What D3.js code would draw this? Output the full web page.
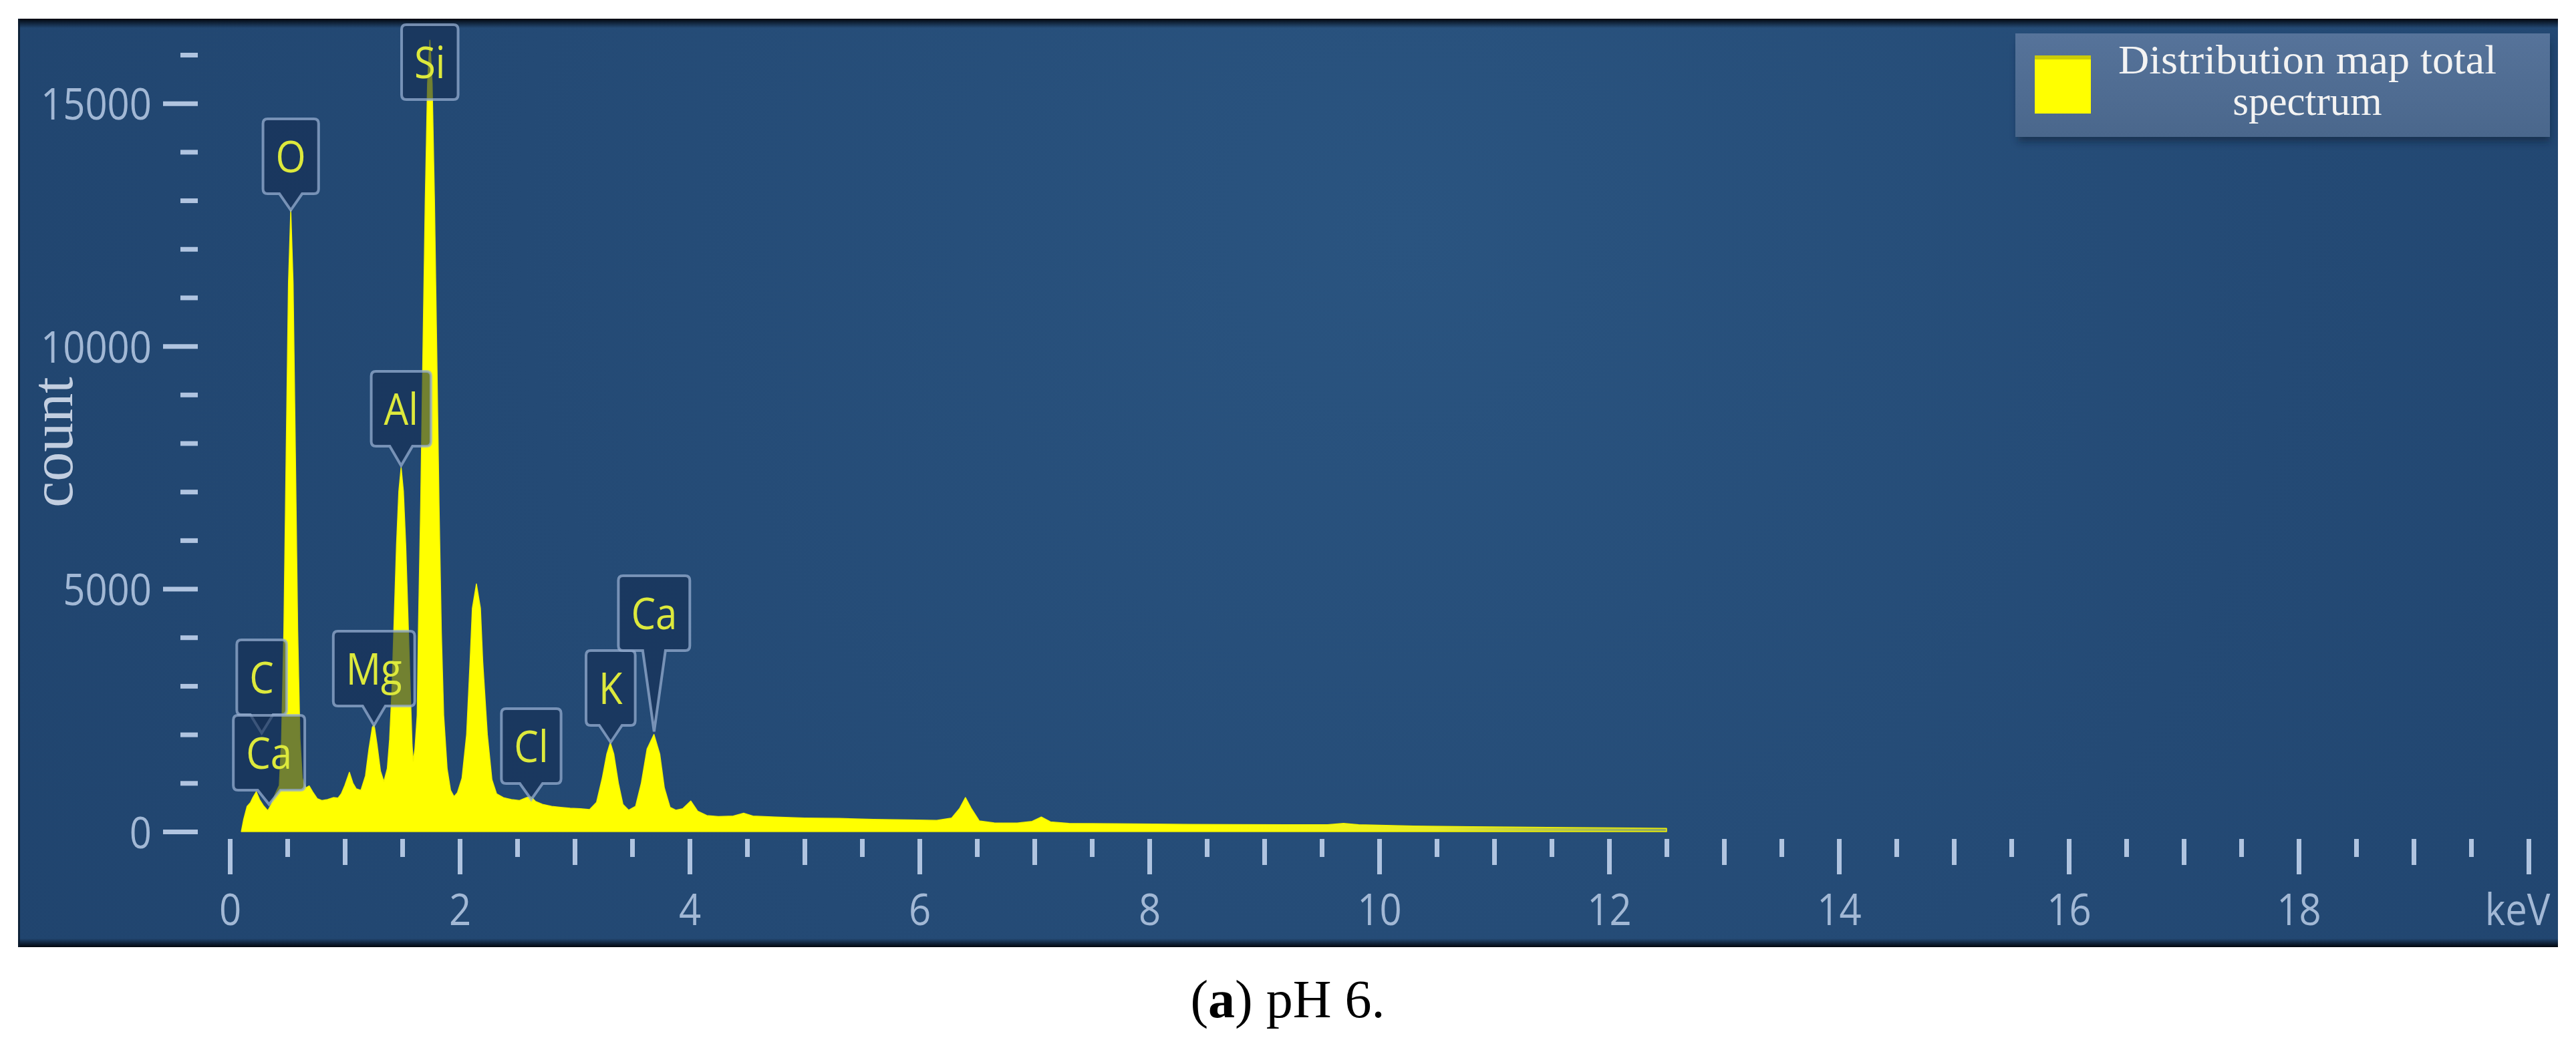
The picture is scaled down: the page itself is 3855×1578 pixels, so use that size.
<!DOCTYPE html>
<html><head><meta charset="utf-8">
<script src="https://cdn.jsdelivr.net/npm/d3@7/dist/d3.min.js"></script>
<style>body{margin:0;background:#fff}svg{display:block}</style>
</head><body><svg id="chart" width="3855" height="1578"></svg>
<script>
// ---- data ----
const energyKeV = [0.10,0.12,0.15,0.18,0.20,0.23,0.26,0.29,0.33,0.36,0.40,0.43,0.45,0.47,0.49,0.51,0.53,0.55,0.57,0.59,0.61,0.63,0.66,0.69,0.72,0.76,0.80,0.85,0.90,0.94,0.97,1.00,1.04,1.07,1.10,1.14,1.18,1.21,1.24,1.255,1.28,1.31,1.34,1.37,1.39,1.41,1.43,1.45,1.47,1.49,1.51,1.53,1.55,1.57,1.585,1.595,1.61,1.63,1.64,1.66,1.68,1.70,1.72,1.74,1.76,1.78,1.80,1.82,1.84,1.86,1.89,1.92,1.95,1.98,2.02,2.06,2.09,2.11,2.145,2.18,2.20,2.24,2.28,2.32,2.38,2.45,2.52,2.58,2.62,2.66,2.72,2.80,2.88,2.96,3.05,3.13,3.19,3.24,3.28,3.31,3.34,3.38,3.42,3.47,3.53,3.58,3.63,3.69,3.74,3.78,3.83,3.88,3.94,4.01,4.07,4.15,4.25,4.38,4.47,4.55,4.75,5.0,5.3,5.6,5.9,6.15,6.28,6.35,6.40,6.45,6.52,6.65,6.85,6.98,7.06,7.14,7.3,7.7,8.2,8.7,9.2,9.55,9.69,9.82,10.3,10.8,11.3,11.8,12.2,12.5,12.5];
const counts    = [0,250,520,600,700,820,650,540,430,560,800,950,1900,4150,7800,11300,12800,11300,7800,4150,1900,1100,900,940,820,680,640,660,700,690,780,950,1220,1000,880,850,1150,1700,2150,2200,1800,1250,1030,1300,1900,2900,4400,5900,7000,7500,7000,5900,4400,2900,1800,1450,1700,2400,4100,6700,9900,13000,15400,16300,15400,13000,9900,6700,4100,2400,1300,850,720,800,1100,2000,3500,4600,5100,4600,3500,2000,1070,780,700,660,640,700,720,620,560,520,500,480,470,455,600,1100,1600,1830,1600,1000,560,440,520,1000,1700,2000,1600,900,500,440,470,630,420,330,310,320,380,320,300,280,270,250,240,230,280,480,700,480,220,180,175,210,300,200,170,160,150,145,140,140,170,140,115,100,90,80,72,65,0];

const peakLabels    = ["C","Ca","O","Mg","Al","Si","Cl","K","Ca"];
const peakEnergies  = [0.277,0.341,0.530,1.254,1.490,1.740,2.622,3.313,3.691];
const peakTipCounts = [2030,560,12800,2190,7540,16300,660,1840,2060];

const yMajorTicks = [0,5000,10000,15000];
const yMinorTicks = [1000,2000,3000,4000,6000,7000,8000,9000,11000,12000,13000,14000,16000];
const xMajorTicks = [0,2,4,6,8,10,12,14,16,18,20];
const xMajorLabels = ["0","2","4","6","8","10","12","14","16","18","keV"];
const xMidTicks = [1,3,5,7,9,11,13,15,17,19];
const xMinorTicks = [0.5,1.5,2.5,3.5,4.5,5.5,6.5,7.5,8.5,9.5,10.5,11.5,12.5,13.5,14.5,15.5,16.5,17.5,18.5,19.5];

const yAxisTitle = "count";
const legendLines = ["Distribution map total","spectrum"];

// ---- layout (pixels) ----
const panel = {x0:27, y0:28, x1:3828, y1:1418};
const labelBoxTops = [958,1071,178,945,556,37,1061,974,862];
const boxH = 112;

const svg = d3.select("#chart");
const defs = svg.append("defs");

const x = d3.scaleLinear().domain([0,20]).range([344,3784]);
const y = d3.scaleLinear().domain([0,16000]).range([1245,82]);

// background gradients
const rg = defs.append("radialGradient").attr("id","bg").attr("gradientUnits","userSpaceOnUse")
  .attr("cx",2100).attr("cy",350).attr("r",2400);
rg.append("stop").attr("offset",0).attr("stop-color","#2a5480");
rg.append("stop").attr("offset",0.55).attr("stop-color","#244a75");
rg.append("stop").attr("offset",1).attr("stop-color","#20446e");
const topG = defs.append("linearGradient").attr("id","topEdge").attr("x1",0).attr("y1",0).attr("x2",0).attr("y2",1);
topG.append("stop").attr("offset",0).attr("stop-color","#02060d").attr("stop-opacity",1);
topG.append("stop").attr("offset",1).attr("stop-color","#02060d").attr("stop-opacity",0);
const botG = defs.append("linearGradient").attr("id","botEdge").attr("x1",0).attr("y1",0).attr("x2",0).attr("y2",1);
botG.append("stop").attr("offset",0).attr("stop-color","#02060d").attr("stop-opacity",0);
botG.append("stop").attr("offset",1).attr("stop-color","#02060d").attr("stop-opacity",1);
const fillG = defs.append("linearGradient").attr("id","specFill").attr("gradientUnits","userSpaceOnUse")
  .attr("x1",x(8.5)).attr("y1",0).attr("x2",x(12.5)).attr("y2",0);
fillG.append("stop").attr("offset",0).attr("stop-color","#ffff00");
fillG.append("stop").attr("offset",0.5).attr("stop-color","#e6ec2a");
fillG.append("stop").attr("offset",1).attr("stop-color","#8fa860");
const legG = defs.append("linearGradient").attr("id","legBg").attr("x1",0).attr("y1",0).attr("x2",0).attr("y2",1);
legG.append("stop").attr("offset",0).attr("stop-color","#56739a");
legG.append("stop").attr("offset",1).attr("stop-color","#4a678c");
const blur = defs.append("filter").attr("id","soft").attr("x","-10%").attr("y","-10%").attr("width","120%").attr("height","140%");
blur.append("feGaussianBlur").attr("stdDeviation",6);

svg.append("rect").attr("x",panel.x0).attr("y",panel.y0).attr("width",panel.x1-panel.x0).attr("height",panel.y1-panel.y0).attr("fill","url(#bg)");
svg.append("rect").attr("x",panel.x0).attr("y",panel.y0).attr("width",panel.x1-panel.x0).attr("height",14).attr("fill","url(#topEdge)");
svg.append("rect").attr("x",panel.x0).attr("y",panel.y1-13).attr("width",panel.x1-panel.x0).attr("height",13).attr("fill","url(#botEdge)");
svg.append("rect").attr("x",panel.x0).attr("y",panel.y0).attr("width",3).attr("height",panel.y1-panel.y0).attr("fill","#0b1a2c").attr("opacity",0.8);

// spectrum
const pts = energyKeV.map((e,i)=>[e,counts[i]]);
const area = d3.area().x(d=>x(d[0])).y0(y(0)).y1(d=>y(d[1]));
svg.append("path").datum(pts).attr("d",area).attr("fill","url(#specFill)")
  .attr("stroke","#f4f400").attr("stroke-width",1.5).attr("stroke-linejoin","round");

// axes
const tickColor = "#b0c4e0", labelColor = "#a2b8d5";
const sansFont = "'Open Sans', 'DejaVu Sans', sans-serif";
function styleAxis(g, sw){
  g.select(".domain").remove();
  g.selectAll(".tick line").attr("stroke",tickColor).attr("stroke-width",sw);
}
const yMinorG = svg.append("g").attr("transform","translate(296,0)")
  .call(d3.axisLeft(y).tickValues(yMinorTicks).tickSize(26).tickFormat(""));
styleAxis(yMinorG,7);
const yMajorG = svg.append("g").attr("transform","translate(296,0)")
  .call(d3.axisLeft(y).tickValues(yMajorTicks).tickSize(52).tickPadding(17).tickFormat(d3.format("d")));
styleAxis(yMajorG,7);
yMajorG.selectAll(".tick text").attr("x",0).attr("dy",null).attr("y",24)
  .attr("transform","translate(-69,0) scale(0.88,1)")
  .attr("fill",labelColor).attr("font-size",66).attr("font-family",sansFont);

const xAxisY = 1256;
const xMinorG = svg.append("g").attr("transform",`translate(0,${xAxisY})`)
  .call(d3.axisBottom(x).tickValues(xMinorTicks).tickSize(27).tickFormat(""));
styleAxis(xMinorG,7);
const xMidG = svg.append("g").attr("transform",`translate(0,${xAxisY})`)
  .call(d3.axisBottom(x).tickValues(xMidTicks).tickSize(39).tickFormat(""));
styleAxis(xMidG,7);
const xMajorG = svg.append("g").attr("transform",`translate(0,${xAxisY})`)
  .call(d3.axisBottom(x).tickValues(xMajorTicks).tickSize(53).tickFormat((d,i)=>xMajorLabels[i]));
styleAxis(xMajorG,7);
xMajorG.selectAll(".tick text").attr("dy",null).attr("y",129)
  .attr("x",(d,i)=> i===xMajorTicks.length-1 ? -17/0.88 : 0)
  .attr("transform","scale(0.88,1)")
  .attr("fill",labelColor).attr("font-size",66).attr("font-family",sansFont);

// y axis title
svg.append("text").attr("transform","translate(108,662) rotate(-90)")
  .attr("text-anchor","middle").attr("font-family","'Liberation Serif','Times New Roman',serif")
  .attr("font-size",88).attr("fill","#c2cee0").text(yAxisTitle);

// element label callouts
const lblG = svg.append("g");
peakLabels.forEach((lab,i)=>{
  const cx = x(peakEnergies[i]);
  const top = labelBoxTops[i];
  const bottom = top + boxH;
  const tipY = y(peakTipCounts[i]);
  const t = lblG.append("text").attr("font-family",sansFont).attr("font-size",66)
    .attr("text-anchor","middle").text(lab);
  const tw = t.node().getComputedTextLength()*0.88;
  const w = tw + 38, r = 7, hb = 17;
  const L = cx - w/2, R = cx + w/2;
  let p = `M${L+r},${top} H${R-r} Q${R},${top} ${R},${top+r} V${bottom-r} Q${R},${bottom} ${R-r},${bottom}`;
  if (tipY > bottom + 4) p += ` H${cx+hb} L${cx},${tipY} L${cx-hb},${bottom}`;
  p += ` H${L+r} Q${L},${bottom} ${L},${bottom-r} V${top+r} Q${L},${top} ${L+r},${top} Z`;
  lblG.insert("path", function(){ return t.node(); }).attr("d",p)
    .attr("fill","#142d52").attr("fill-opacity",0.6)
    .attr("stroke","#95add0").attr("stroke-opacity",0.75).attr("stroke-width",4);
  t.attr("transform",`translate(${cx},${top+boxH/2+24}) scale(0.88,1)`).attr("fill","#dde93c");
});

// legend
const lg = svg.append("g");
lg.append("rect").attr("x",3020).attr("y",62).attr("width",796).attr("height",150)
  .attr("fill","#0a1a30").attr("opacity",0.55).attr("filter","url(#soft)");
lg.append("rect").attr("x",3016).attr("y",50).attr("width",800).attr("height",155).attr("fill","url(#legBg)");
lg.append("rect").attr("x",3045).attr("y",83).attr("width",84).attr("height",87).attr("fill","#ffff00");
lg.append("rect").attr("x",3045).attr("y",83).attr("width",84).attr("height",6).attr("fill","#9a9a10").attr("opacity",0.5);
legendLines.forEach((s,i)=>{
  lg.append("text").attr("x",3453).attr("y",110+62*i).attr("text-anchor","middle")
    .attr("font-family","'Liberation Serif','Times New Roman',serif").attr("font-size",61)
    .attr("fill","#f3f3f3").attr("textLength", i===0 ? 566 : null).attr("lengthAdjust","spacingAndGlyphs").text(s);
});

// caption
const cap = svg.append("text").attr("x",1927).attr("y",1523).attr("text-anchor","middle")
  .attr("font-family","'Liberation Serif','Times New Roman',serif").attr("font-size",80).attr("fill","#000");
cap.append("tspan").text("(");
cap.append("tspan").attr("font-weight","bold").text("a");
cap.append("tspan").text(") pH 6.");
</script></body></html>
